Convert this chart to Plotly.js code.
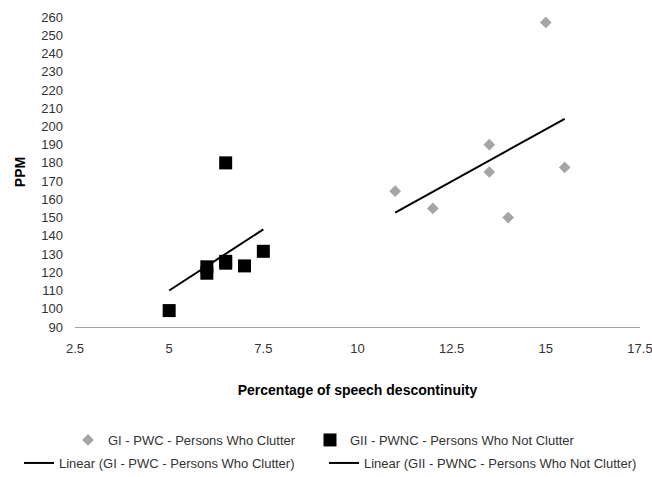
<!DOCTYPE html>
<html>
<head>
<meta charset="utf-8">
<script src="https://cdn.plot.ly/plotly-3.0.1.min.js"></script>
<style>html,body{margin:0;padding:0;background:#fff}#chart{width:652px;height:477px}</style>
</head>
<body>
<div id="chart"></div>
<script>
// Data
const giName = 'GI - PWC - Persons Who Clutter';
const giiName = 'GII - PWNC - Persons Who Not Clutter';
const giX = [11, 12, 13.5, 13.5, 14, 15, 15.5];
const giY = [164.5, 155, 190, 175, 150, 257, 177.5];
const giiX = [5, 6, 6, 6.5, 6.5, 6.5, 7, 7.5];
const giiY = [99, 123, 119.5, 180, 126, 125, 123.5, 131.5];
const xTicks = [2.5, 5, 7.5, 10, 12.5, 15, 17.5];
const yTicks = [90,100,110,120,130,140,150,160,170,180,190,200,210,220,230,240,250,260];

// Linear (least squares) trendline over each series' x-extent
function linFit(xs, ys) {
  const n = xs.length;
  const mx = xs.reduce((a,b)=>a+b,0)/n, my = ys.reduce((a,b)=>a+b,0)/n;
  let sxx = 0, sxy = 0;
  for (let i=0;i<n;i++){ sxx += (xs[i]-mx)**2; sxy += (xs[i]-mx)*(ys[i]-my); }
  const b = sxy/sxx, a = my - b*mx;
  const x0 = Math.min(...xs), x1 = Math.max(...xs);
  return {x:[x0,x1], y:[a+b*x0, a+b*x1]};
}
const giFit = linFit(giX, giY);
const giiFit = linFit(giiX, giiY);

const font = 'Liberation Sans, Arial, sans-serif';
const traces = [
  {type:'scatter', mode:'markers', name:giName, x:giX, y:giY,
   marker:{symbol:'diamond', size:9, color:'#a5a5a5'}, legend:'legend'},
  {type:'scatter', mode:'markers', name:giiName, x:giiX, y:giiY,
   marker:{symbol:'square', size:13, color:'#000'}, legend:'legend2'},
  {type:'scatter', mode:'lines', name:'Linear (' + giName + ')', x:giFit.x, y:giFit.y,
   line:{color:'#000', width:2}, legend:'legend3'},
  {type:'scatter', mode:'lines', name:'Linear (' + giiName + ')', x:giiFit.x, y:giiFit.y,
   line:{color:'#000', width:2}, legend:'legend4'}
];

function leg(xpx, ypx) {
  return {orientation:'h', xref:'container', yref:'container', x:xpx/652, xanchor:'left',
    y:(477 - ypx)/477, yanchor:'middle', font:{size:13, color:'#333'}, bgcolor:'rgba(0,0,0,0)'};
}

const layout = {
  width:652, height:477,
  margin:{l:75, r:12, t:17, b:150, autoexpand:false},
  paper_bgcolor:'#fff', plot_bgcolor:'#fff',
  font:{family:font, size:13, color:'#333'},
  showlegend:true,
  xaxis:{
    range:[2.5,17.5], tickmode:'array', tickvals:xTicks, ticktext:xTicks.map(String),
    showgrid:false, zeroline:false, showline:true, linecolor:'#a0a0a0', linewidth:1,
    ticks:'', ticklabelstandoff:9, ticklabeloverflow:'allow', tickfont:{size:13, color:'#333'},
    title:{text:'Percentage of speech descontinuity', font:{size:14, color:'#000', family:font, weight:'bold'}, standoff:30}
  },
  yaxis:{
    range:[90,260], tickmode:'array', tickvals:yTicks, ticktext:yTicks.map(String),
    showgrid:false, zeroline:false, showline:false, ticks:'', ticklabelstandoff:11,
    tickfont:{size:13, color:'#333'},
    title:{text:'PPM', font:{size:14, color:'#000', family:font, weight:'bold'}, standoff:12}
  },
  legend: leg(68, 440),
  legend2: leg(310, 440),
  legend3: leg(19, 463),
  legend4: leg(324, 463)
};

Plotly.newPlot('chart', traces, layout, {displayModeBar:false, staticPlot:true});
</script>
</body>
</html>
